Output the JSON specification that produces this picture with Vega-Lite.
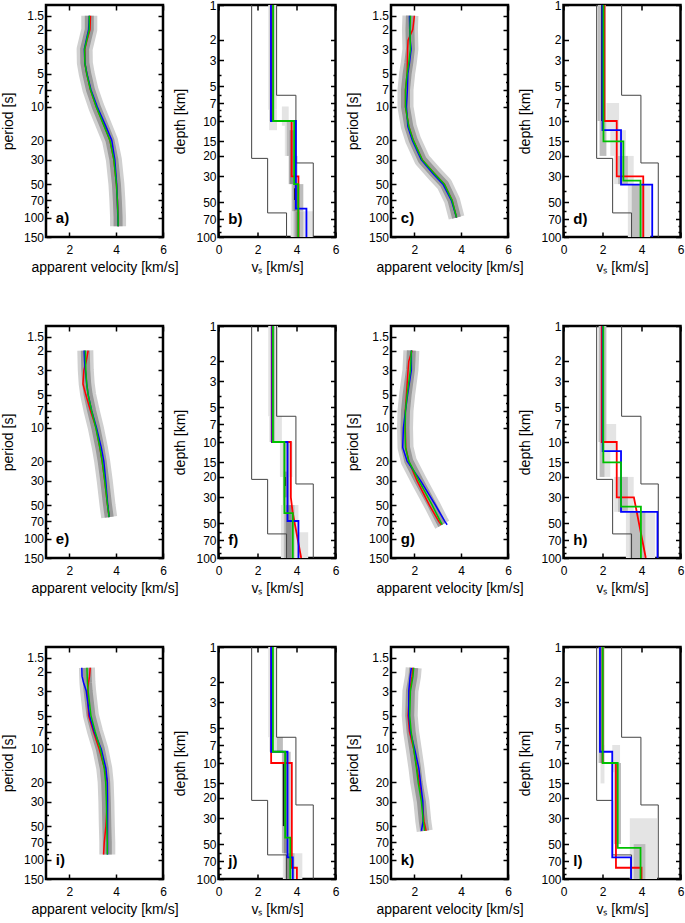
{
"$schema":"https://vega.github.io/schema/vega-lite/v6.json",
"background":"white",
"padding":{"left":0,"top":-3,"right":0,"bottom":2},
"columns":4,
"spacing":{"row":89,"column":55.5},
"bounds":"flush",
"datasets":{
"per":[
{"k":"a","t":1.5,"r":2.9,"g":2.85,"b":2.85},{"k":"a","t":2,"r":2.88,"g":2.85,"b":2.82},{"k":"a","t":2.5,"r":2.75,"g":2.74,"b":2.72},{"k":"a","t":3,"r":2.66,"g":2.65,"b":2.64},{"k":"a","t":4,"r":2.66,"g":2.66,"b":2.66},{"k":"a","t":5,"r":2.74,"g":2.74,"b":2.75},{"k":"a","t":7,"r":2.9,"g":2.9,"b":2.92},{"k":"a","t":10,"r":3.15,"g":3.15,"b":3.19},{"k":"a","t":15,"r":3.5,"g":3.49,"b":3.56},{"k":"a","t":20,"r":3.73,"g":3.73,"b":3.81},{"k":"a","t":30,"r":3.9,"g":3.9,"b":3.94},{"k":"a","t":50,"r":4.01,"g":4.01,"b":4.02},{"k":"a","t":70,"r":4.05,"g":4.05,"b":4.05},{"k":"a","t":100,"r":4.08,"g":4.08,"b":4.07},{"k":"a","t":120,"r":4.09,"g":4.08,"b":4.08},
{"k":"c","t":1.5,"r":2.0,"g":1.83,"b":1.79},{"k":"c","t":2,"r":1.93,"g":1.81,"b":1.8},{"k":"c","t":2.5,"r":1.73,"g":1.82,"b":1.82},{"k":"c","t":3,"r":1.71,"g":1.83,"b":1.86},{"k":"c","t":4,"r":1.7,"g":1.76,"b":1.79},{"k":"c","t":5,"r":1.69,"g":1.69,"b":1.72},{"k":"c","t":7,"r":1.62,"g":1.62,"b":1.7},{"k":"c","t":10,"r":1.62,"g":1.62,"b":1.66},{"k":"c","t":15,"r":1.76,"g":1.76,"b":1.72},{"k":"c","t":20,"r":1.95,"g":1.95,"b":1.91},{"k":"c","t":30,"r":2.33,"g":2.33,"b":2.29},{"k":"c","t":40,"r":2.85,"g":2.85,"b":2.79},{"k":"c","t":50,"r":3.28,"g":3.28,"b":3.22},{"k":"c","t":70,"r":3.61,"g":3.61,"b":3.58},{"k":"c","t":100,"r":3.8,"g":3.8,"b":3.8},
{"k":"e","t":2,"r":2.8,"g":2.68,"b":2.63},{"k":"e","t":2.5,"r":2.72,"g":2.69,"b":2.65},{"k":"e","t":3,"r":2.62,"g":2.7,"b":2.68},{"k":"e","t":4,"r":2.58,"g":2.74,"b":2.74},{"k":"e","t":5,"r":2.7,"g":2.8,"b":2.8},{"k":"e","t":7,"r":2.9,"g":2.95,"b":2.95},{"k":"e","t":10,"r":3.14,"g":3.13,"b":3.16},{"k":"e","t":15,"r":3.3,"g":3.3,"b":3.36},{"k":"e","t":20,"r":3.4,"g":3.4,"b":3.47},{"k":"e","t":30,"r":3.51,"g":3.51,"b":3.55},{"k":"e","t":50,"r":3.63,"g":3.63,"b":3.64},{"k":"e","t":64,"r":3.7,"g":3.7,"b":3.7},
{"k":"g","t":2,"r":1.9,"g":1.87,"b":1.87},{"k":"g","t":2.5,"r":1.76,"g":1.85,"b":1.87},{"k":"g","t":3,"r":1.73,"g":1.83,"b":1.87},{"k":"g","t":5,"r":1.66,"g":1.69,"b":1.71},{"k":"g","t":7,"r":1.61,"g":1.62,"b":1.62},{"k":"g","t":10,"r":1.61,"g":1.6,"b":1.53},{"k":"g","t":15,"r":1.63,"g":1.62,"b":1.5},{"k":"g","t":20,"r":1.76,"g":1.76,"b":1.69},{"k":"g","t":30,"r":2.11,"g":2.19,"b":2.26},{"k":"g","t":50,"r":2.64,"g":2.76,"b":2.9},{"k":"g","t":70,"r":3.04,"g":3.11,"b":3.3},{"k":"g","t":75,"r":3.15,"g":3.19,"b":3.4},
{"k":"i","t":1.85,"r":2.89,"g":2.75,"b":2.53},{"k":"i","t":2.2,"r":2.86,"g":2.76,"b":2.54},{"k":"i","t":2.5,"r":2.82,"g":2.77,"b":2.6},{"k":"i","t":3,"r":2.78,"g":2.8,"b":2.72},{"k":"i","t":5,"r":2.82,"g":2.92,"b":2.86},{"k":"i","t":7,"r":3.03,"g":3.1,"b":3.06},{"k":"i","t":10,"r":3.27,"g":3.32,"b":3.36},{"k":"i","t":15,"r":3.5,"g":3.49,"b":3.56},{"k":"i","t":20,"r":3.62,"g":3.55,"b":3.62},{"k":"i","t":30,"r":3.62,"g":3.58,"b":3.63},{"k":"i","t":50,"r":3.56,"g":3.6,"b":3.63},{"k":"i","t":70,"r":3.49,"g":3.62,"b":3.63},{"k":"i","t":90,"r":3.46,"g":3.62,"b":3.63},
{"k":"k","t":1.85,"r":1.93,"g":1.97,"b":1.87},{"k":"k","t":2.2,"r":1.9,"g":1.94,"b":1.82},{"k":"k","t":3,"r":1.8,"g":1.83,"b":1.76},{"k":"k","t":5,"r":1.73,"g":1.8,"b":1.76},{"k":"k","t":7,"r":1.79,"g":1.86,"b":1.83},{"k":"k","t":10,"r":1.97,"g":1.97,"b":2.01},{"k":"k","t":15,"r":2.11,"g":2.09,"b":2.19},{"k":"k","t":20,"r":2.21,"g":2.16,"b":2.26},{"k":"k","t":30,"r":2.33,"g":2.3,"b":2.36},{"k":"k","t":45,"r":2.41,"g":2.38,"b":2.37},{"k":"k","t":55,"r":2.5,"g":2.44,"b":2.3}
],
"prof":[
{"k":"b","s":"r","i":0,"v":2.72,"d":1},{"k":"b","s":"r","i":1,"v":2.72,"d":10},{"k":"b","s":"r","i":2,"v":3.75,"d":10},{"k":"b","s":"r","i":3,"v":3.75,"d":30},{"k":"b","s":"r","i":4,"v":4.1,"d":30},{"k":"b","s":"r","i":5,"v":4.1,"d":100},
{"k":"b","s":"b","i":0,"v":2.69,"d":1},{"k":"b","s":"b","i":1,"v":2.69,"d":10},{"k":"b","s":"b","i":2,"v":3.97,"d":10},{"k":"b","s":"b","i":3,"v":3.97,"d":57},{"k":"b","s":"b","i":4,"v":4.51,"d":57},{"k":"b","s":"b","i":5,"v":4.51,"d":100},
{"k":"b","s":"g","i":0,"v":2.8,"d":1},{"k":"b","s":"g","i":1,"v":2.8,"d":10},{"k":"b","s":"g","i":2,"v":3.88,"d":10},{"k":"b","s":"g","i":3,"v":3.88,"d":35},{"k":"b","s":"g","i":4,"v":4.09,"d":35},{"k":"b","s":"g","i":5,"v":4.09,"d":100},
{"k":"d","s":"r","i":0,"v":2.1,"d":1},{"k":"d","s":"r","i":1,"v":2.1,"d":10},{"k":"d","s":"r","i":2,"v":2.73,"d":10},{"k":"d","s":"r","i":3,"v":2.73,"d":30},{"k":"d","s":"r","i":4,"v":4.09,"d":30},{"k":"d","s":"r","i":5,"v":4.09,"d":100},
{"k":"d","s":"b","i":0,"v":2.0,"d":1},{"k":"d","s":"b","i":1,"v":2.0,"d":12},{"k":"d","s":"b","i":2,"v":2.95,"d":12},{"k":"d","s":"b","i":3,"v":2.95,"d":35.4},{"k":"d","s":"b","i":4,"v":4.55,"d":35.4},{"k":"d","s":"b","i":5,"v":4.55,"d":100},
{"k":"d","s":"g","i":0,"v":2.05,"d":1},{"k":"d","s":"g","i":1,"v":2.05,"d":15},{"k":"d","s":"g","i":2,"v":3.07,"d":15},{"k":"d","s":"g","i":3,"v":3.07,"d":32.7},{"k":"d","s":"g","i":4,"v":3.95,"d":32.7},{"k":"d","s":"g","i":5,"v":3.95,"d":100},
{"k":"f","s":"r","i":0,"v":2.74,"d":1},{"k":"f","s":"r","i":1,"v":2.74,"d":10},{"k":"f","s":"r","i":2,"v":3.71,"d":10},{"k":"f","s":"r","i":3,"v":3.71,"d":30},{"k":"f","s":"r","i":4,"v":3.8,"d":40},{"k":"f","s":"r","i":5,"v":4.24,"d":100},
{"k":"f","s":"b","i":0,"v":2.76,"d":1},{"k":"f","s":"b","i":1,"v":2.76,"d":10},{"k":"f","s":"b","i":2,"v":3.54,"d":10},{"k":"f","s":"b","i":3,"v":3.54,"d":48},{"k":"f","s":"b","i":4,"v":4.1,"d":48},{"k":"f","s":"b","i":5,"v":4.1,"d":100},
{"k":"f","s":"g","i":0,"v":2.79,"d":1},{"k":"f","s":"g","i":1,"v":2.79,"d":10},{"k":"f","s":"g","i":2,"v":3.38,"d":10},{"k":"f","s":"g","i":3,"v":3.38,"d":41},{"k":"f","s":"g","i":4,"v":3.81,"d":41},{"k":"f","s":"g","i":5,"v":3.81,"d":100},
{"k":"h","s":"r","i":0,"v":1.96,"d":1},{"k":"h","s":"r","i":1,"v":1.96,"d":10},{"k":"h","s":"r","i":2,"v":2.73,"d":10},{"k":"h","s":"r","i":3,"v":2.73,"d":30},{"k":"h","s":"r","i":4,"v":3.61,"d":30},{"k":"h","s":"r","i":5,"v":4.22,"d":100},
{"k":"h","s":"b","i":0,"v":2.01,"d":1},{"k":"h","s":"b","i":1,"v":2.01,"d":12},{"k":"h","s":"b","i":2,"v":2.95,"d":12},{"k":"h","s":"b","i":3,"v":2.95,"d":40},{"k":"h","s":"b","i":4,"v":4.82,"d":40},{"k":"h","s":"b","i":5,"v":4.82,"d":100},
{"k":"h","s":"g","i":0,"v":2.04,"d":1},{"k":"h","s":"g","i":1,"v":2.04,"d":15},{"k":"h","s":"g","i":2,"v":2.95,"d":15},{"k":"h","s":"g","i":3,"v":2.95,"d":36},{"k":"h","s":"g","i":4,"v":3.97,"d":36},{"k":"h","s":"g","i":5,"v":3.97,"d":100},
{"k":"j","s":"r","i":0,"v":2.7,"d":1},{"k":"j","s":"r","i":1,"v":2.7,"d":10},{"k":"j","s":"r","i":2,"v":3.76,"d":10},{"k":"j","s":"r","i":3,"v":3.76,"d":80},{"k":"j","s":"r","i":4,"v":4.02,"d":80},{"k":"j","s":"r","i":5,"v":4.02,"d":100},
{"k":"j","s":"b","i":0,"v":2.7,"d":1},{"k":"j","s":"b","i":1,"v":2.7,"d":8},{"k":"j","s":"b","i":2,"v":3.54,"d":8},{"k":"j","s":"b","i":3,"v":3.54,"d":65},{"k":"j","s":"b","i":4,"v":3.81,"d":65},{"k":"j","s":"b","i":5,"v":3.81,"d":100},
{"k":"j","s":"g","i":0,"v":2.79,"d":1},{"k":"j","s":"g","i":1,"v":2.79,"d":8},{"k":"j","s":"g","i":2,"v":3.42,"d":8},{"k":"j","s":"g","i":3,"v":3.42,"d":44},{"k":"j","s":"g","i":4,"v":3.68,"d":44},{"k":"j","s":"g","i":5,"v":3.68,"d":100},
{"k":"l","s":"r","i":0,"v":2.01,"d":1},{"k":"l","s":"r","i":1,"v":2.01,"d":10},{"k":"l","s":"r","i":2,"v":2.69,"d":10},{"k":"l","s":"r","i":3,"v":2.69,"d":80},{"k":"l","s":"r","i":4,"v":4.0,"d":80},{"k":"l","s":"r","i":5,"v":4.0,"d":100},
{"k":"l","s":"b","i":0,"v":1.87,"d":1},{"k":"l","s":"b","i":1,"v":1.87,"d":8},{"k":"l","s":"b","i":2,"v":2.5,"d":8},{"k":"l","s":"b","i":3,"v":2.5,"d":65},{"k":"l","s":"b","i":4,"v":3.46,"d":65},{"k":"l","s":"b","i":5,"v":3.46,"d":100},
{"k":"l","s":"g","i":0,"v":2.01,"d":1},{"k":"l","s":"g","i":1,"v":2.01,"d":10},{"k":"l","s":"g","i":2,"v":2.78,"d":10},{"k":"l","s":"g","i":3,"v":2.78,"d":54},{"k":"l","s":"g","i":4,"v":3.95,"d":54},{"k":"l","s":"g","i":5,"v":3.95,"d":100}
],
"dens":[
{"k":"b","d1":1,"d2":8,"lo":2.55,"hi":3.0,"c":1},{"k":"b","d1":8,"d2":12,"lo":2.6,"hi":3.0,"c":1},{"k":"b","d1":7.5,"d2":11,"lo":3.25,"hi":3.6,"c":1},{"k":"b","d1":10,"d2":20,"lo":3.4,"hi":3.9,"c":1},{"k":"b","d1":60,"d2":100,"lo":3.7,"hi":4.85,"c":1},
{"k":"b","d1":1,"d2":10,"lo":2.62,"hi":2.88,"c":2},{"k":"b","d1":10,"d2":20,"lo":3.5,"hi":3.8,"c":2},{"k":"b","d1":20,"d2":35,"lo":3.6,"hi":4.05,"c":2},{"k":"b","d1":35,"d2":60,"lo":3.75,"hi":4.35,"c":2},{"k":"b","d1":60,"d2":100,"lo":3.85,"hi":4.35,"c":2},
{"k":"b","d1":1,"d2":10,"lo":2.67,"hi":2.8,"c":3},{"k":"b","d1":12,"d2":35,"lo":3.65,"hi":3.85,"c":3},{"k":"b","d1":35,"d2":60,"lo":3.85,"hi":4.1,"c":3},{"k":"b","d1":60,"d2":100,"lo":3.95,"hi":4.15,"c":3},{"k":"b","d1":38,"d2":48,"lo":3.88,"hi":3.98,"c":4},
{"k":"d","d1":7,"d2":12,"lo":2.2,"hi":2.85,"c":1},{"k":"d","d1":12,"d2":20,"lo":2.4,"hi":3.2,"c":1},{"k":"d","d1":20,"d2":35,"lo":2.6,"hi":3.6,"c":1},{"k":"d","d1":35,"d2":100,"lo":3.3,"hi":4.45,"c":1},
{"k":"d","d1":1,"d2":10,"lo":1.75,"hi":2.17,"c":2},{"k":"d","d1":10,"d2":20,"lo":1.85,"hi":2.2,"c":2},{"k":"d","d1":20,"d2":35,"lo":2.8,"hi":3.3,"c":2},{"k":"d","d1":35,"d2":100,"lo":3.5,"hi":4.15,"c":2},
{"k":"d","d1":1,"d2":10,"lo":1.93,"hi":2.08,"c":4},
{"k":"f","d1":1,"d2":6,"lo":2.55,"hi":3.05,"c":1},{"k":"f","d1":6,"d2":10,"lo":2.6,"hi":3.25,"c":1},{"k":"f","d1":10,"d2":20,"lo":3.15,"hi":3.8,"c":1},{"k":"f","d1":35,"d2":100,"lo":3.2,"hi":4.1,"c":1},{"k":"f","d1":60,"d2":100,"lo":4.1,"hi":4.6,"c":1},
{"k":"f","d1":1,"d2":10,"lo":2.65,"hi":2.9,"c":2},{"k":"f","d1":10,"d2":35,"lo":3.3,"hi":3.65,"c":2},{"k":"f","d1":35,"d2":100,"lo":3.35,"hi":3.9,"c":2},
{"k":"f","d1":1,"d2":10,"lo":2.72,"hi":2.82,"c":3},{"k":"f","d1":18,"d2":30,"lo":3.35,"hi":3.5,"c":3},{"k":"f","d1":35,"d2":100,"lo":3.45,"hi":3.75,"c":3},{"k":"f","d1":20,"d2":24,"lo":3.38,"hi":3.45,"c":4},
{"k":"h","d1":7,"d2":20,"lo":1.9,"hi":2.4,"c":1},{"k":"h","d1":7,"d2":12,"lo":2.3,"hi":2.7,"c":1},{"k":"h","d1":20,"d2":40,"lo":2.6,"hi":3.6,"c":1},{"k":"h","d1":40,"d2":100,"lo":3.2,"hi":4.7,"c":1},
{"k":"h","d1":1,"d2":10,"lo":1.8,"hi":2.2,"c":2},{"k":"h","d1":10,"d2":20,"lo":1.85,"hi":2.1,"c":2},{"k":"h","d1":20,"d2":40,"lo":2.8,"hi":3.3,"c":2},{"k":"h","d1":40,"d2":100,"lo":3.4,"hi":4.2,"c":2},
{"k":"h","d1":1,"d2":10,"lo":1.95,"hi":2.05,"c":4},
{"k":"j","d1":1,"d2":6,"lo":2.55,"hi":3.0,"c":1},{"k":"j","d1":6,"d2":8,"lo":2.6,"hi":3.3,"c":1},{"k":"j","d1":60,"d2":100,"lo":3.3,"hi":4.3,"c":1},
{"k":"j","d1":1,"d2":6,"lo":2.65,"hi":2.85,"c":2},{"k":"j","d1":6,"d2":8,"lo":3.0,"hi":3.3,"c":2},{"k":"j","d1":8,"d2":60,"lo":3.25,"hi":3.7,"c":2},{"k":"j","d1":60,"d2":100,"lo":3.4,"hi":3.9,"c":2},
{"k":"j","d1":8,"d2":60,"lo":3.35,"hi":3.55,"c":3},{"k":"j","d1":60,"d2":100,"lo":3.5,"hi":3.7,"c":3},{"k":"j","d1":10,"d2":35,"lo":3.3,"hi":3.38,"c":4},
{"k":"l","d1":7,"d2":15,"lo":1.9,"hi":2.1,"c":1},{"k":"l","d1":7,"d2":12,"lo":2.5,"hi":2.9,"c":1},{"k":"l","d1":30,"d2":100,"lo":3.4,"hi":4.8,"c":1},
{"k":"l","d1":1,"d2":10,"lo":1.8,"hi":2.1,"c":2},{"k":"l","d1":10,"d2":50,"lo":2.6,"hi":2.95,"c":2},{"k":"l","d1":50,"d2":100,"lo":3.6,"hi":4.2,"c":2},
{"k":"l","d1":1,"d2":10,"lo":1.9,"hi":2.0,"c":3}
],
"bnd":[
{"s":"lo","i":0,"v":1.7,"d":1},{"s":"lo","i":1,"v":1.7,"d":21},{"s":"lo","i":2,"v":2.52,"d":21},{"s":"lo","i":3,"v":2.52,"d":62},{"s":"lo","i":4,"v":3.49,"d":62},{"s":"lo","i":5,"v":3.49,"d":100},
{"s":"hi","i":0,"v":2.98,"d":1},{"s":"hi","i":1,"v":2.98,"d":6},{"s":"hi","i":2,"v":3.97,"d":6},{"s":"hi","i":3,"v":3.97,"d":23},{"s":"hi","i":4,"v":4.86,"d":23},{"s":"hi","i":5,"v":4.86,"d":100}
]
},
"concat":[
{"width":117,"height":232,"resolve":{"axis":{"x":"independent","y":"independent"}},"layer":[
{"data":{"name":"per"},"transform":[{"filter":"datum.k=='a'"}],"mark":{"type":"line","strokeWidth":16,"color":"#d0d0d0","strokeCap":"butt","strokeJoin":"round"},"encoding":{"x":{"field":"g","type":"quantitative","scale":{"domain":[1,6],"nice":false,"zero":false},"axis":{"orient":"bottom","values":[2,4,6],"title":"apparent velocity [km/s]"}},"y":{"field":"t","type":"quantitative","scale":{"type":"log","domain":[1.2,150],"reverse":true,"nice":false},"axis":{"orient":"left","values":[1.5,2,3,5,7,10,20,30,50,70,100,150],"title":"period [s]","labelExpr":"''+datum.value"}},"order":{"field":"t","type":"quantitative"}}},
{"data":{"name":"per"},"transform":[{"filter":"datum.k=='a'"}],"mark":{"type":"line","strokeWidth":9,"color":"#9a9a9a","strokeCap":"butt","strokeJoin":"round"},"encoding":{"x":{"field":"g","type":"quantitative","scale":{"domain":[1,6],"nice":false,"zero":false},"axis":{"orient":"top","values":[2,4,6],"labels":false,"title":null}},"y":{"field":"t","type":"quantitative","scale":{"type":"log","domain":[1.2,150],"reverse":true,"nice":false},"axis":{"orient":"right","values":[1.5,2,3,5,7,10,20,30,50,70,100,150],"labels":false,"title":null}},"order":{"field":"t","type":"quantitative"}}},
{"data":{"name":"per"},"transform":[{"filter":"datum.k=='a'"},{"fold":["r","b","g"],"as":["s","v"]}],"mark":{"type":"line","strokeWidth":1.5},"encoding":{"x":{"field":"v","type":"quantitative","scale":{"domain":[1,6],"nice":false,"zero":false},"axis":null},"y":{"field":"t","type":"quantitative","scale":{"type":"log","domain":[1.2,150],"reverse":true,"nice":false},"axis":{"orient":"left","values":[4,6,8,9,40,60,80,90],"labels":false,"title":null,"tickSize":-2.5}},"stroke":{"field":"s","type":"nominal","scale":{"domain":["r","b","g"],"range":["#ff0000","#0000ff","#00c000"]},"legend":null},"order":{"field":"t","type":"quantitative"}}},
{"data":{"values":[{}]},"mark":{"type":"text","text":"a)","fontSize":15,"fontWeight":"bold","align":"left","baseline":"middle","color":"#000"},"encoding":{"x":{"datum":1.42,"type":"quantitative","scale":{"domain":[1,6],"nice":false,"zero":false},"axis":null},"y":{"datum":100,"type":"quantitative","scale":{"type":"log","domain":[1.2,150],"reverse":true,"nice":false},"axis":{"orient":"right","values":[4,6,8,9,40,60,80,90],"labels":false,"title":null,"tickSize":-2.5}}}}
]},
{"width":117,"height":232,"resolve":{"axis":{"x":"independent","y":"independent"}},"layer":[
{"data":{"name":"dens"},"transform":[{"filter":"datum.k=='b'"}],"mark":{"type":"rect"},"encoding":{"x":{"field":"lo","type":"quantitative","scale":{"domain":[0,6],"nice":false,"zero":false},"axis":{"orient":"bottom","values":[0,2,4,6],"title":"vₛ [km/s]"}},"x2":{"field":"hi"},"y":{"field":"d1","type":"quantitative","scale":{"type":"log","domain":[1,100],"reverse":true,"nice":false},"axis":{"orient":"left","values":[1,2,3,5,7,10,15,20,30,50,70,100],"title":"depth [km]","labelExpr":"''+datum.value"}},"y2":{"field":"d2"},"fill":{"field":"c","type":"ordinal","scale":{"domain":[1,2,3,4],"range":["#e4e4e4","#bdbdbd","#8c8c8c","#1a1a1a"]},"legend":null}}},
{"data":{"name":"bnd"},"mark":{"type":"line","strokeWidth":1,"color":"#444"},"encoding":{"x":{"field":"v","type":"quantitative","scale":{"domain":[0,6],"nice":false,"zero":false},"axis":{"orient":"top","values":[0,2,4,6],"labels":false,"title":null}},"y":{"field":"d","type":"quantitative","scale":{"type":"log","domain":[1,100],"reverse":true,"nice":false},"axis":{"orient":"right","values":[1,2,3,5,7,10,15,20,30,50,70,100],"labels":false,"title":null}},"detail":{"field":"s","type":"nominal"},"order":{"field":"i","type":"quantitative"}}},
{"data":{"name":"prof"},"transform":[{"filter":"datum.k=='b'"}],"mark":{"type":"line","strokeWidth":1.8},"encoding":{"x":{"field":"v","type":"quantitative","scale":{"domain":[0,6],"nice":false,"zero":false},"axis":null},"y":{"field":"d","type":"quantitative","scale":{"type":"log","domain":[1,100],"reverse":true,"nice":false},"axis":{"orient":"left","values":[4,6,8,9,40,60,80,90],"labels":false,"title":null,"tickSize":-2.5}},"stroke":{"field":"s","type":"nominal","scale":{"domain":["r","b","g"],"range":["#ff0000","#0000ff","#00c000"]},"legend":null},"order":{"field":"i","type":"quantitative"}}},
{"data":{"values":[{}]},"mark":{"type":"text","text":"b)","fontSize":15,"fontWeight":"bold","align":"left","baseline":"middle","color":"#000"},"encoding":{"x":{"datum":0.5,"type":"quantitative","scale":{"domain":[0,6],"nice":false,"zero":false},"axis":null},"y":{"datum":70,"type":"quantitative","scale":{"type":"log","domain":[1,100],"reverse":true,"nice":false},"axis":{"orient":"right","values":[4,6,8,9,40,60,80,90],"labels":false,"title":null,"tickSize":-2.5}}}}
]},
{"width":117,"height":232,"resolve":{"axis":{"x":"independent","y":"independent"}},"layer":[
{"data":{"name":"per"},"transform":[{"filter":"datum.k=='c'"}],"mark":{"type":"line","strokeWidth":16,"color":"#d0d0d0","strokeCap":"butt","strokeJoin":"round"},"encoding":{"x":{"field":"g","type":"quantitative","scale":{"domain":[1,6],"nice":false,"zero":false},"axis":{"orient":"bottom","values":[2,4,6],"title":"apparent velocity [km/s]"}},"y":{"field":"t","type":"quantitative","scale":{"type":"log","domain":[1.2,150],"reverse":true,"nice":false},"axis":{"orient":"left","values":[1.5,2,3,5,7,10,20,30,50,70,100,150],"title":"period [s]","labelExpr":"''+datum.value"}},"order":{"field":"t","type":"quantitative"}}},
{"data":{"name":"per"},"transform":[{"filter":"datum.k=='c'"}],"mark":{"type":"line","strokeWidth":9,"color":"#9a9a9a","strokeCap":"butt","strokeJoin":"round"},"encoding":{"x":{"field":"g","type":"quantitative","scale":{"domain":[1,6],"nice":false,"zero":false},"axis":{"orient":"top","values":[2,4,6],"labels":false,"title":null}},"y":{"field":"t","type":"quantitative","scale":{"type":"log","domain":[1.2,150],"reverse":true,"nice":false},"axis":{"orient":"right","values":[1.5,2,3,5,7,10,20,30,50,70,100,150],"labels":false,"title":null}},"order":{"field":"t","type":"quantitative"}}},
{"data":{"name":"per"},"transform":[{"filter":"datum.k=='c'"},{"fold":["r","b","g"],"as":["s","v"]}],"mark":{"type":"line","strokeWidth":1.5},"encoding":{"x":{"field":"v","type":"quantitative","scale":{"domain":[1,6],"nice":false,"zero":false},"axis":null},"y":{"field":"t","type":"quantitative","scale":{"type":"log","domain":[1.2,150],"reverse":true,"nice":false},"axis":{"orient":"left","values":[4,6,8,9,40,60,80,90],"labels":false,"title":null,"tickSize":-2.5}},"stroke":{"field":"s","type":"nominal","scale":{"domain":["r","b","g"],"range":["#ff0000","#0000ff","#00c000"]},"legend":null},"order":{"field":"t","type":"quantitative"}}},
{"data":{"values":[{}]},"mark":{"type":"text","text":"c)","fontSize":15,"fontWeight":"bold","align":"left","baseline":"middle","color":"#000"},"encoding":{"x":{"datum":1.42,"type":"quantitative","scale":{"domain":[1,6],"nice":false,"zero":false},"axis":null},"y":{"datum":100,"type":"quantitative","scale":{"type":"log","domain":[1.2,150],"reverse":true,"nice":false},"axis":{"orient":"right","values":[4,6,8,9,40,60,80,90],"labels":false,"title":null,"tickSize":-2.5}}}}
]},
{"width":117,"height":232,"resolve":{"axis":{"x":"independent","y":"independent"}},"layer":[
{"data":{"name":"dens"},"transform":[{"filter":"datum.k=='d'"}],"mark":{"type":"rect"},"encoding":{"x":{"field":"lo","type":"quantitative","scale":{"domain":[0,6],"nice":false,"zero":false},"axis":{"orient":"bottom","values":[0,2,4,6],"title":"vₛ [km/s]"}},"x2":{"field":"hi"},"y":{"field":"d1","type":"quantitative","scale":{"type":"log","domain":[1,100],"reverse":true,"nice":false},"axis":{"orient":"left","values":[1,2,3,5,7,10,15,20,30,50,70,100],"title":"depth [km]","labelExpr":"''+datum.value"}},"y2":{"field":"d2"},"fill":{"field":"c","type":"ordinal","scale":{"domain":[1,2,3,4],"range":["#e4e4e4","#bdbdbd","#8c8c8c","#1a1a1a"]},"legend":null}}},
{"data":{"name":"bnd"},"mark":{"type":"line","strokeWidth":1,"color":"#444"},"encoding":{"x":{"field":"v","type":"quantitative","scale":{"domain":[0,6],"nice":false,"zero":false},"axis":{"orient":"top","values":[0,2,4,6],"labels":false,"title":null}},"y":{"field":"d","type":"quantitative","scale":{"type":"log","domain":[1,100],"reverse":true,"nice":false},"axis":{"orient":"right","values":[1,2,3,5,7,10,15,20,30,50,70,100],"labels":false,"title":null}},"detail":{"field":"s","type":"nominal"},"order":{"field":"i","type":"quantitative"}}},
{"data":{"name":"prof"},"transform":[{"filter":"datum.k=='d'"}],"mark":{"type":"line","strokeWidth":1.8},"encoding":{"x":{"field":"v","type":"quantitative","scale":{"domain":[0,6],"nice":false,"zero":false},"axis":null},"y":{"field":"d","type":"quantitative","scale":{"type":"log","domain":[1,100],"reverse":true,"nice":false},"axis":{"orient":"left","values":[4,6,8,9,40,60,80,90],"labels":false,"title":null,"tickSize":-2.5}},"stroke":{"field":"s","type":"nominal","scale":{"domain":["r","b","g"],"range":["#ff0000","#0000ff","#00c000"]},"legend":null},"order":{"field":"i","type":"quantitative"}}},
{"data":{"values":[{}]},"mark":{"type":"text","text":"d)","fontSize":15,"fontWeight":"bold","align":"left","baseline":"middle","color":"#000"},"encoding":{"x":{"datum":0.5,"type":"quantitative","scale":{"domain":[0,6],"nice":false,"zero":false},"axis":null},"y":{"datum":70,"type":"quantitative","scale":{"type":"log","domain":[1,100],"reverse":true,"nice":false},"axis":{"orient":"right","values":[4,6,8,9,40,60,80,90],"labels":false,"title":null,"tickSize":-2.5}}}}
]},
{"width":117,"height":232,"resolve":{"axis":{"x":"independent","y":"independent"}},"layer":[
{"data":{"name":"per"},"transform":[{"filter":"datum.k=='e'"}],"mark":{"type":"line","strokeWidth":16,"color":"#d0d0d0","strokeCap":"butt","strokeJoin":"round"},"encoding":{"x":{"field":"g","type":"quantitative","scale":{"domain":[1,6],"nice":false,"zero":false},"axis":{"orient":"bottom","values":[2,4,6],"title":"apparent velocity [km/s]"}},"y":{"field":"t","type":"quantitative","scale":{"type":"log","domain":[1.2,150],"reverse":true,"nice":false},"axis":{"orient":"left","values":[1.5,2,3,5,7,10,20,30,50,70,100,150],"title":"period [s]","labelExpr":"''+datum.value"}},"order":{"field":"t","type":"quantitative"}}},
{"data":{"name":"per"},"transform":[{"filter":"datum.k=='e'"}],"mark":{"type":"line","strokeWidth":9,"color":"#9a9a9a","strokeCap":"butt","strokeJoin":"round"},"encoding":{"x":{"field":"g","type":"quantitative","scale":{"domain":[1,6],"nice":false,"zero":false},"axis":{"orient":"top","values":[2,4,6],"labels":false,"title":null}},"y":{"field":"t","type":"quantitative","scale":{"type":"log","domain":[1.2,150],"reverse":true,"nice":false},"axis":{"orient":"right","values":[1.5,2,3,5,7,10,20,30,50,70,100,150],"labels":false,"title":null}},"order":{"field":"t","type":"quantitative"}}},
{"data":{"name":"per"},"transform":[{"filter":"datum.k=='e'"},{"fold":["r","b","g"],"as":["s","v"]}],"mark":{"type":"line","strokeWidth":1.5},"encoding":{"x":{"field":"v","type":"quantitative","scale":{"domain":[1,6],"nice":false,"zero":false},"axis":null},"y":{"field":"t","type":"quantitative","scale":{"type":"log","domain":[1.2,150],"reverse":true,"nice":false},"axis":{"orient":"left","values":[4,6,8,9,40,60,80,90],"labels":false,"title":null,"tickSize":-2.5}},"stroke":{"field":"s","type":"nominal","scale":{"domain":["r","b","g"],"range":["#ff0000","#0000ff","#00c000"]},"legend":null},"order":{"field":"t","type":"quantitative"}}},
{"data":{"values":[{}]},"mark":{"type":"text","text":"e)","fontSize":15,"fontWeight":"bold","align":"left","baseline":"middle","color":"#000"},"encoding":{"x":{"datum":1.42,"type":"quantitative","scale":{"domain":[1,6],"nice":false,"zero":false},"axis":null},"y":{"datum":100,"type":"quantitative","scale":{"type":"log","domain":[1.2,150],"reverse":true,"nice":false},"axis":{"orient":"right","values":[4,6,8,9,40,60,80,90],"labels":false,"title":null,"tickSize":-2.5}}}}
]},
{"width":117,"height":232,"resolve":{"axis":{"x":"independent","y":"independent"}},"layer":[
{"data":{"name":"dens"},"transform":[{"filter":"datum.k=='f'"}],"mark":{"type":"rect"},"encoding":{"x":{"field":"lo","type":"quantitative","scale":{"domain":[0,6],"nice":false,"zero":false},"axis":{"orient":"bottom","values":[0,2,4,6],"title":"vₛ [km/s]"}},"x2":{"field":"hi"},"y":{"field":"d1","type":"quantitative","scale":{"type":"log","domain":[1,100],"reverse":true,"nice":false},"axis":{"orient":"left","values":[1,2,3,5,7,10,15,20,30,50,70,100],"title":"depth [km]","labelExpr":"''+datum.value"}},"y2":{"field":"d2"},"fill":{"field":"c","type":"ordinal","scale":{"domain":[1,2,3,4],"range":["#e4e4e4","#bdbdbd","#8c8c8c","#1a1a1a"]},"legend":null}}},
{"data":{"name":"bnd"},"mark":{"type":"line","strokeWidth":1,"color":"#444"},"encoding":{"x":{"field":"v","type":"quantitative","scale":{"domain":[0,6],"nice":false,"zero":false},"axis":{"orient":"top","values":[0,2,4,6],"labels":false,"title":null}},"y":{"field":"d","type":"quantitative","scale":{"type":"log","domain":[1,100],"reverse":true,"nice":false},"axis":{"orient":"right","values":[1,2,3,5,7,10,15,20,30,50,70,100],"labels":false,"title":null}},"detail":{"field":"s","type":"nominal"},"order":{"field":"i","type":"quantitative"}}},
{"data":{"name":"prof"},"transform":[{"filter":"datum.k=='f'"}],"mark":{"type":"line","strokeWidth":1.8},"encoding":{"x":{"field":"v","type":"quantitative","scale":{"domain":[0,6],"nice":false,"zero":false},"axis":null},"y":{"field":"d","type":"quantitative","scale":{"type":"log","domain":[1,100],"reverse":true,"nice":false},"axis":{"orient":"left","values":[4,6,8,9,40,60,80,90],"labels":false,"title":null,"tickSize":-2.5}},"stroke":{"field":"s","type":"nominal","scale":{"domain":["r","b","g"],"range":["#ff0000","#0000ff","#00c000"]},"legend":null},"order":{"field":"i","type":"quantitative"}}},
{"data":{"values":[{}]},"mark":{"type":"text","text":"f)","fontSize":15,"fontWeight":"bold","align":"left","baseline":"middle","color":"#000"},"encoding":{"x":{"datum":0.5,"type":"quantitative","scale":{"domain":[0,6],"nice":false,"zero":false},"axis":null},"y":{"datum":70,"type":"quantitative","scale":{"type":"log","domain":[1,100],"reverse":true,"nice":false},"axis":{"orient":"right","values":[4,6,8,9,40,60,80,90],"labels":false,"title":null,"tickSize":-2.5}}}}
]},
{"width":117,"height":232,"resolve":{"axis":{"x":"independent","y":"independent"}},"layer":[
{"data":{"name":"per"},"transform":[{"filter":"datum.k=='g'"}],"mark":{"type":"line","strokeWidth":16,"color":"#d0d0d0","strokeCap":"butt","strokeJoin":"round"},"encoding":{"x":{"field":"g","type":"quantitative","scale":{"domain":[1,6],"nice":false,"zero":false},"axis":{"orient":"bottom","values":[2,4,6],"title":"apparent velocity [km/s]"}},"y":{"field":"t","type":"quantitative","scale":{"type":"log","domain":[1.2,150],"reverse":true,"nice":false},"axis":{"orient":"left","values":[1.5,2,3,5,7,10,20,30,50,70,100,150],"title":"period [s]","labelExpr":"''+datum.value"}},"order":{"field":"t","type":"quantitative"}}},
{"data":{"name":"per"},"transform":[{"filter":"datum.k=='g'"}],"mark":{"type":"line","strokeWidth":9,"color":"#9a9a9a","strokeCap":"butt","strokeJoin":"round"},"encoding":{"x":{"field":"g","type":"quantitative","scale":{"domain":[1,6],"nice":false,"zero":false},"axis":{"orient":"top","values":[2,4,6],"labels":false,"title":null}},"y":{"field":"t","type":"quantitative","scale":{"type":"log","domain":[1.2,150],"reverse":true,"nice":false},"axis":{"orient":"right","values":[1.5,2,3,5,7,10,20,30,50,70,100,150],"labels":false,"title":null}},"order":{"field":"t","type":"quantitative"}}},
{"data":{"name":"per"},"transform":[{"filter":"datum.k=='g'"},{"fold":["r","b","g"],"as":["s","v"]}],"mark":{"type":"line","strokeWidth":1.5},"encoding":{"x":{"field":"v","type":"quantitative","scale":{"domain":[1,6],"nice":false,"zero":false},"axis":null},"y":{"field":"t","type":"quantitative","scale":{"type":"log","domain":[1.2,150],"reverse":true,"nice":false},"axis":{"orient":"left","values":[4,6,8,9,40,60,80,90],"labels":false,"title":null,"tickSize":-2.5}},"stroke":{"field":"s","type":"nominal","scale":{"domain":["r","b","g"],"range":["#ff0000","#0000ff","#00c000"]},"legend":null},"order":{"field":"t","type":"quantitative"}}},
{"data":{"values":[{}]},"mark":{"type":"text","text":"g)","fontSize":15,"fontWeight":"bold","align":"left","baseline":"middle","color":"#000"},"encoding":{"x":{"datum":1.42,"type":"quantitative","scale":{"domain":[1,6],"nice":false,"zero":false},"axis":null},"y":{"datum":100,"type":"quantitative","scale":{"type":"log","domain":[1.2,150],"reverse":true,"nice":false},"axis":{"orient":"right","values":[4,6,8,9,40,60,80,90],"labels":false,"title":null,"tickSize":-2.5}}}}
]},
{"width":117,"height":232,"resolve":{"axis":{"x":"independent","y":"independent"}},"layer":[
{"data":{"name":"dens"},"transform":[{"filter":"datum.k=='h'"}],"mark":{"type":"rect"},"encoding":{"x":{"field":"lo","type":"quantitative","scale":{"domain":[0,6],"nice":false,"zero":false},"axis":{"orient":"bottom","values":[0,2,4,6],"title":"vₛ [km/s]"}},"x2":{"field":"hi"},"y":{"field":"d1","type":"quantitative","scale":{"type":"log","domain":[1,100],"reverse":true,"nice":false},"axis":{"orient":"left","values":[1,2,3,5,7,10,15,20,30,50,70,100],"title":"depth [km]","labelExpr":"''+datum.value"}},"y2":{"field":"d2"},"fill":{"field":"c","type":"ordinal","scale":{"domain":[1,2,3,4],"range":["#e4e4e4","#bdbdbd","#8c8c8c","#1a1a1a"]},"legend":null}}},
{"data":{"name":"bnd"},"mark":{"type":"line","strokeWidth":1,"color":"#444"},"encoding":{"x":{"field":"v","type":"quantitative","scale":{"domain":[0,6],"nice":false,"zero":false},"axis":{"orient":"top","values":[0,2,4,6],"labels":false,"title":null}},"y":{"field":"d","type":"quantitative","scale":{"type":"log","domain":[1,100],"reverse":true,"nice":false},"axis":{"orient":"right","values":[1,2,3,5,7,10,15,20,30,50,70,100],"labels":false,"title":null}},"detail":{"field":"s","type":"nominal"},"order":{"field":"i","type":"quantitative"}}},
{"data":{"name":"prof"},"transform":[{"filter":"datum.k=='h'"}],"mark":{"type":"line","strokeWidth":1.8},"encoding":{"x":{"field":"v","type":"quantitative","scale":{"domain":[0,6],"nice":false,"zero":false},"axis":null},"y":{"field":"d","type":"quantitative","scale":{"type":"log","domain":[1,100],"reverse":true,"nice":false},"axis":{"orient":"left","values":[4,6,8,9,40,60,80,90],"labels":false,"title":null,"tickSize":-2.5}},"stroke":{"field":"s","type":"nominal","scale":{"domain":["r","b","g"],"range":["#ff0000","#0000ff","#00c000"]},"legend":null},"order":{"field":"i","type":"quantitative"}}},
{"data":{"values":[{}]},"mark":{"type":"text","text":"h)","fontSize":15,"fontWeight":"bold","align":"left","baseline":"middle","color":"#000"},"encoding":{"x":{"datum":0.5,"type":"quantitative","scale":{"domain":[0,6],"nice":false,"zero":false},"axis":null},"y":{"datum":70,"type":"quantitative","scale":{"type":"log","domain":[1,100],"reverse":true,"nice":false},"axis":{"orient":"right","values":[4,6,8,9,40,60,80,90],"labels":false,"title":null,"tickSize":-2.5}}}}
]},
{"width":117,"height":232,"resolve":{"axis":{"x":"independent","y":"independent"}},"layer":[
{"data":{"name":"per"},"transform":[{"filter":"datum.k=='i'"}],"mark":{"type":"line","strokeWidth":16,"color":"#d0d0d0","strokeCap":"butt","strokeJoin":"round"},"encoding":{"x":{"field":"g","type":"quantitative","scale":{"domain":[1,6],"nice":false,"zero":false},"axis":{"orient":"bottom","values":[2,4,6],"title":"apparent velocity [km/s]"}},"y":{"field":"t","type":"quantitative","scale":{"type":"log","domain":[1.2,150],"reverse":true,"nice":false},"axis":{"orient":"left","values":[1.5,2,3,5,7,10,20,30,50,70,100,150],"title":"period [s]","labelExpr":"''+datum.value"}},"order":{"field":"t","type":"quantitative"}}},
{"data":{"name":"per"},"transform":[{"filter":"datum.k=='i'"}],"mark":{"type":"line","strokeWidth":9,"color":"#9a9a9a","strokeCap":"butt","strokeJoin":"round"},"encoding":{"x":{"field":"g","type":"quantitative","scale":{"domain":[1,6],"nice":false,"zero":false},"axis":{"orient":"top","values":[2,4,6],"labels":false,"title":null}},"y":{"field":"t","type":"quantitative","scale":{"type":"log","domain":[1.2,150],"reverse":true,"nice":false},"axis":{"orient":"right","values":[1.5,2,3,5,7,10,20,30,50,70,100,150],"labels":false,"title":null}},"order":{"field":"t","type":"quantitative"}}},
{"data":{"name":"per"},"transform":[{"filter":"datum.k=='i'"},{"fold":["r","b","g"],"as":["s","v"]}],"mark":{"type":"line","strokeWidth":1.5},"encoding":{"x":{"field":"v","type":"quantitative","scale":{"domain":[1,6],"nice":false,"zero":false},"axis":null},"y":{"field":"t","type":"quantitative","scale":{"type":"log","domain":[1.2,150],"reverse":true,"nice":false},"axis":{"orient":"left","values":[4,6,8,9,40,60,80,90],"labels":false,"title":null,"tickSize":-2.5}},"stroke":{"field":"s","type":"nominal","scale":{"domain":["r","b","g"],"range":["#ff0000","#0000ff","#00c000"]},"legend":null},"order":{"field":"t","type":"quantitative"}}},
{"data":{"values":[{}]},"mark":{"type":"text","text":"i)","fontSize":15,"fontWeight":"bold","align":"left","baseline":"middle","color":"#000"},"encoding":{"x":{"datum":1.42,"type":"quantitative","scale":{"domain":[1,6],"nice":false,"zero":false},"axis":null},"y":{"datum":100,"type":"quantitative","scale":{"type":"log","domain":[1.2,150],"reverse":true,"nice":false},"axis":{"orient":"right","values":[4,6,8,9,40,60,80,90],"labels":false,"title":null,"tickSize":-2.5}}}}
]},
{"width":117,"height":232,"resolve":{"axis":{"x":"independent","y":"independent"}},"layer":[
{"data":{"name":"dens"},"transform":[{"filter":"datum.k=='j'"}],"mark":{"type":"rect"},"encoding":{"x":{"field":"lo","type":"quantitative","scale":{"domain":[0,6],"nice":false,"zero":false},"axis":{"orient":"bottom","values":[0,2,4,6],"title":"vₛ [km/s]"}},"x2":{"field":"hi"},"y":{"field":"d1","type":"quantitative","scale":{"type":"log","domain":[1,100],"reverse":true,"nice":false},"axis":{"orient":"left","values":[1,2,3,5,7,10,15,20,30,50,70,100],"title":"depth [km]","labelExpr":"''+datum.value"}},"y2":{"field":"d2"},"fill":{"field":"c","type":"ordinal","scale":{"domain":[1,2,3,4],"range":["#e4e4e4","#bdbdbd","#8c8c8c","#1a1a1a"]},"legend":null}}},
{"data":{"name":"bnd"},"mark":{"type":"line","strokeWidth":1,"color":"#444"},"encoding":{"x":{"field":"v","type":"quantitative","scale":{"domain":[0,6],"nice":false,"zero":false},"axis":{"orient":"top","values":[0,2,4,6],"labels":false,"title":null}},"y":{"field":"d","type":"quantitative","scale":{"type":"log","domain":[1,100],"reverse":true,"nice":false},"axis":{"orient":"right","values":[1,2,3,5,7,10,15,20,30,50,70,100],"labels":false,"title":null}},"detail":{"field":"s","type":"nominal"},"order":{"field":"i","type":"quantitative"}}},
{"data":{"name":"prof"},"transform":[{"filter":"datum.k=='j'"}],"mark":{"type":"line","strokeWidth":1.8},"encoding":{"x":{"field":"v","type":"quantitative","scale":{"domain":[0,6],"nice":false,"zero":false},"axis":null},"y":{"field":"d","type":"quantitative","scale":{"type":"log","domain":[1,100],"reverse":true,"nice":false},"axis":{"orient":"left","values":[4,6,8,9,40,60,80,90],"labels":false,"title":null,"tickSize":-2.5}},"stroke":{"field":"s","type":"nominal","scale":{"domain":["r","b","g"],"range":["#ff0000","#0000ff","#00c000"]},"legend":null},"order":{"field":"i","type":"quantitative"}}},
{"data":{"values":[{}]},"mark":{"type":"text","text":"j)","fontSize":15,"fontWeight":"bold","align":"left","baseline":"middle","color":"#000"},"encoding":{"x":{"datum":0.5,"type":"quantitative","scale":{"domain":[0,6],"nice":false,"zero":false},"axis":null},"y":{"datum":70,"type":"quantitative","scale":{"type":"log","domain":[1,100],"reverse":true,"nice":false},"axis":{"orient":"right","values":[4,6,8,9,40,60,80,90],"labels":false,"title":null,"tickSize":-2.5}}}}
]},
{"width":117,"height":232,"resolve":{"axis":{"x":"independent","y":"independent"}},"layer":[
{"data":{"name":"per"},"transform":[{"filter":"datum.k=='k'"}],"mark":{"type":"line","strokeWidth":16,"color":"#d0d0d0","strokeCap":"butt","strokeJoin":"round"},"encoding":{"x":{"field":"g","type":"quantitative","scale":{"domain":[1,6],"nice":false,"zero":false},"axis":{"orient":"bottom","values":[2,4,6],"title":"apparent velocity [km/s]"}},"y":{"field":"t","type":"quantitative","scale":{"type":"log","domain":[1.2,150],"reverse":true,"nice":false},"axis":{"orient":"left","values":[1.5,2,3,5,7,10,20,30,50,70,100,150],"title":"period [s]","labelExpr":"''+datum.value"}},"order":{"field":"t","type":"quantitative"}}},
{"data":{"name":"per"},"transform":[{"filter":"datum.k=='k'"}],"mark":{"type":"line","strokeWidth":9,"color":"#9a9a9a","strokeCap":"butt","strokeJoin":"round"},"encoding":{"x":{"field":"g","type":"quantitative","scale":{"domain":[1,6],"nice":false,"zero":false},"axis":{"orient":"top","values":[2,4,6],"labels":false,"title":null}},"y":{"field":"t","type":"quantitative","scale":{"type":"log","domain":[1.2,150],"reverse":true,"nice":false},"axis":{"orient":"right","values":[1.5,2,3,5,7,10,20,30,50,70,100,150],"labels":false,"title":null}},"order":{"field":"t","type":"quantitative"}}},
{"data":{"name":"per"},"transform":[{"filter":"datum.k=='k'"},{"fold":["r","b","g"],"as":["s","v"]}],"mark":{"type":"line","strokeWidth":1.5},"encoding":{"x":{"field":"v","type":"quantitative","scale":{"domain":[1,6],"nice":false,"zero":false},"axis":null},"y":{"field":"t","type":"quantitative","scale":{"type":"log","domain":[1.2,150],"reverse":true,"nice":false},"axis":{"orient":"left","values":[4,6,8,9,40,60,80,90],"labels":false,"title":null,"tickSize":-2.5}},"stroke":{"field":"s","type":"nominal","scale":{"domain":["r","b","g"],"range":["#ff0000","#0000ff","#00c000"]},"legend":null},"order":{"field":"t","type":"quantitative"}}},
{"data":{"values":[{}]},"mark":{"type":"text","text":"k)","fontSize":15,"fontWeight":"bold","align":"left","baseline":"middle","color":"#000"},"encoding":{"x":{"datum":1.42,"type":"quantitative","scale":{"domain":[1,6],"nice":false,"zero":false},"axis":null},"y":{"datum":100,"type":"quantitative","scale":{"type":"log","domain":[1.2,150],"reverse":true,"nice":false},"axis":{"orient":"right","values":[4,6,8,9,40,60,80,90],"labels":false,"title":null,"tickSize":-2.5}}}}
]},
{"width":117,"height":232,"resolve":{"axis":{"x":"independent","y":"independent"}},"layer":[
{"data":{"name":"dens"},"transform":[{"filter":"datum.k=='l'"}],"mark":{"type":"rect"},"encoding":{"x":{"field":"lo","type":"quantitative","scale":{"domain":[0,6],"nice":false,"zero":false},"axis":{"orient":"bottom","values":[0,2,4,6],"title":"vₛ [km/s]"}},"x2":{"field":"hi"},"y":{"field":"d1","type":"quantitative","scale":{"type":"log","domain":[1,100],"reverse":true,"nice":false},"axis":{"orient":"left","values":[1,2,3,5,7,10,15,20,30,50,70,100],"title":"depth [km]","labelExpr":"''+datum.value"}},"y2":{"field":"d2"},"fill":{"field":"c","type":"ordinal","scale":{"domain":[1,2,3,4],"range":["#e4e4e4","#bdbdbd","#8c8c8c","#1a1a1a"]},"legend":null}}},
{"data":{"name":"bnd"},"mark":{"type":"line","strokeWidth":1,"color":"#444"},"encoding":{"x":{"field":"v","type":"quantitative","scale":{"domain":[0,6],"nice":false,"zero":false},"axis":{"orient":"top","values":[0,2,4,6],"labels":false,"title":null}},"y":{"field":"d","type":"quantitative","scale":{"type":"log","domain":[1,100],"reverse":true,"nice":false},"axis":{"orient":"right","values":[1,2,3,5,7,10,15,20,30,50,70,100],"labels":false,"title":null}},"detail":{"field":"s","type":"nominal"},"order":{"field":"i","type":"quantitative"}}},
{"data":{"name":"prof"},"transform":[{"filter":"datum.k=='l'"}],"mark":{"type":"line","strokeWidth":1.8},"encoding":{"x":{"field":"v","type":"quantitative","scale":{"domain":[0,6],"nice":false,"zero":false},"axis":null},"y":{"field":"d","type":"quantitative","scale":{"type":"log","domain":[1,100],"reverse":true,"nice":false},"axis":{"orient":"left","values":[4,6,8,9,40,60,80,90],"labels":false,"title":null,"tickSize":-2.5}},"stroke":{"field":"s","type":"nominal","scale":{"domain":["r","b","g"],"range":["#ff0000","#0000ff","#00c000"]},"legend":null},"order":{"field":"i","type":"quantitative"}}},
{"data":{"values":[{}]},"mark":{"type":"text","text":"l)","fontSize":15,"fontWeight":"bold","align":"left","baseline":"middle","color":"#000"},"encoding":{"x":{"datum":0.5,"type":"quantitative","scale":{"domain":[0,6],"nice":false,"zero":false},"axis":null},"y":{"datum":70,"type":"quantitative","scale":{"type":"log","domain":[1,100],"reverse":true,"nice":false},"axis":{"orient":"right","values":[4,6,8,9,40,60,80,90],"labels":false,"title":null,"tickSize":-2.5}}}}
]}
],
"config":{
"font":"Liberation Sans",
"view":{"stroke":"#000","strokeWidth":2.5},
"axis":{"grid":false,"domain":false,"tickColor":"#000","tickWidth":1.5,"tickSize":-5,"labelFontSize":12,"labelColor":"#000","labelFont":"Liberation Sans","titleFont":"Liberation Sans","titleFontSize":14,"titleFontWeight":"normal","titleColor":"#000","labelFlush":false,"labelOverlap":false},
"axisX":{"labelPadding":12,"titlePadding":5},
"axisY":{"labelPadding":7.5,"titlePadding":8}
}
}
